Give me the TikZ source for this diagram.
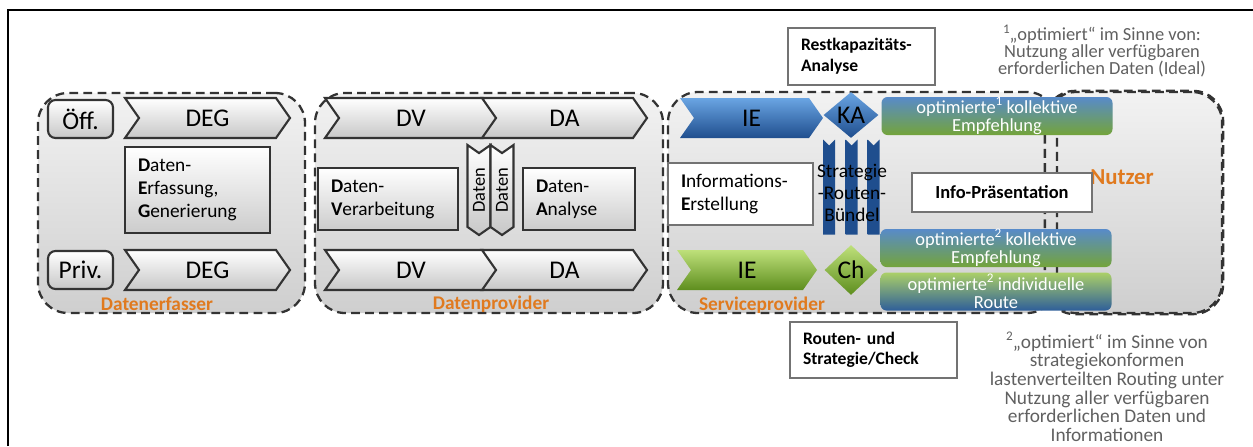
\documentclass[tikz,border=0pt]{standalone}
\usepackage{fontspec}
\setmainfont{Carlito}
\usepackage{tikz}
\usetikzlibrary{shapes.symbols}
\usetikzlibrary{shapes.geometric}

\definecolor{orangelab}{HTML}{E07A1F}
\definecolor{ieblueT}{HTML}{6AA5E3}
\definecolor{ieblueB}{HTML}{1F4E8E}
\definecolor{iegreenT}{HTML}{BEE07A}
\definecolor{iegreenB}{HTML}{5E8E1E}
\definecolor{recblue}{HTML}{3A76C0}
\definecolor{recgreen}{HTML}{74A43A}
\definecolor{notegray}{HTML}{606060}

\newcommand{\hoch}[1]{\raisebox{0.42em}{\fontsize{7.5}{8}\selectfont #1}}

\tikzset{
    group/.style={rectangle, rounded corners=6mm, draw=black!80, line width=1.3pt,
        dash pattern=on 5pt off 3pt, top color=black!5, bottom color=black!19, inner sep=0pt},
    grpline/.style={draw=black!80, line width=1.3pt, dash pattern=on 5pt off 3pt},
    grplabel/.style={text=orangelab, font=\bfseries\fontsize{11}{13}\selectfont, inner sep=0pt},
    chev/.style={signal, signal from=west, signal to=east, signal pointer angle=110,
        draw=black!80, line width=1.2pt, top color=white, bottom color=black!22,
        minimum height=8mm, inner sep=0pt, font=\fontsize{14.5}{16}\selectfont},
    vchev/.style={chev, rotate=90, signal from=east, signal to=west,
        minimum width=18mm, minimum height=4.6mm, font=\fontsize{10.5}{12}\selectfont},
    srcbox/.style={rectangle, rounded corners=1.5mm, draw=black!80, line width=1.2pt,
        top color=white, bottom color=black!22, minimum width=13mm, minimum height=7.6mm,
        inner sep=0pt, font=\fontsize{14.5}{16}\selectfont},
    datbox/.style={rectangle, draw=black!80, line width=1.2pt, top color=white,
        bottom color=black!20, inner xsep=2.6mm, align=left, font=\fontsize{11}{13}\selectfont},
    whitebox/.style={rectangle, draw=black!55, line width=0.9pt, fill=white,
        inner xsep=2.6mm, align=left, font=\fontsize{11}{13}\selectfont},
    blueshade/.style={top color=ieblueT, bottom color=ieblueB, draw=none},
    greenshade/.style={top color=iegreenT, bottom color=iegreenB, draw=none},
    rhomb/.style={diamond, shape aspect=1.2, inner sep=0pt, font=\fontsize{14.5}{16}\selectfont},
    bundle/.style={signal, rotate=90, signal from=east, signal to=nowhere, signal pointer angle=90,
        minimum width=19mm, minimum height=2.4mm, inner sep=0pt,
        top color=ieblueB, middle color=ieblueT!70!white, bottom color=ieblueB},
    recbox/.style={rectangle, rounded corners=1.2mm, minimum width=46.2mm, minimum height=7.6mm,
        inner sep=0pt, text=white, align=center, font=\fontsize{10.5}{10.2}\selectfont},
    bluegreen/.style={top color=recblue!85!white, middle color=recblue, bottom color=recgreen},
    greenblue/.style={top color=iegreenT!80!iegreenB, middle color=recgreen, bottom color=recblue!80!black},
    note/.style={align=center, text=notegray, inner sep=0pt}
}

\begin{document}
\begin{tikzpicture}[x=0.2mm, y=-0.2mm]
    \useasboundingbox (0,0) rectangle (1253,446);
    \draw[line width=1pt] (8,446) -- (8,10) -- (1253,10);

    % Gruppen
    \node[group, minimum width=53.4mm, minimum height=44mm] (erf) at (171.5,203) {};
    \node[group, minimum width=69.6mm, minimum height=44mm] (prov) at (489,203) {};
    \node[group, minimum width=35.2mm, minimum height=44.2mm] (nutzer) at (1134,202.5) {};
    \node[group, minimum width=77.8mm, minimum height=44.2mm] (serv) at (862.5,202.5) {};
    \draw[grpline, rounded corners=6mm] (nutzer.north west) rectangle (nutzer.south east);

    \node[grplabel] (erflab) at (157,304) {Datenerfasser};
    \node[grplabel] (provlab) at (491,304) {Datenprovider};
    \node[grplabel] (servlab) at (762,305) {Serviceprovider};
    \node[grplabel, font=\bfseries\fontsize{13}{15}\selectfont] (nutzerlab) at (1122,177) {Nutzer};

    % Datenerfasser
    \node[srcbox] (oeff) at (80.5,119) {Öff.};
    \node[srcbox] (priv) at (80.5,270) {Priv.};
    \node[chev, minimum width=33mm] (deg1) at (207.5,118) {DEG};
    \node[chev, minimum width=33mm] (deg2) at (207.5,270) {DEG};
    \node[datbox, minimum width=29mm, minimum height=17.2mm, text width=23.8mm] (erfbox) at (197.5,190)
        {\textbf{D}aten-\\\textbf{E}rfassung,\\\textbf{G}enerierung};

    % Datenprovider
    \node[chev, minimum width=34.4mm] (dv1) at (411,118) {DV};
    \node[chev, minimum width=33mm] (da1) at (564.5,118) {DA};
    \node[chev, minimum width=34.4mm] (dv2) at (411,270) {DV};
    \node[chev, minimum width=33mm] (da2) at (564.5,270) {DA};
    \node[datbox, minimum width=28mm, minimum height=12.4mm, text width=22.8mm] (dvbox) at (388,199)
        {\textbf{D}aten-\\\textbf{V}erarbeitung};
    \node[datbox, minimum width=22.4mm, minimum height=12.4mm, text width=17.2mm] (dabox) at (579,199)
        {\textbf{D}aten-\\\textbf{A}nalyse};
    \node[vchev] (daten1) at (479,190) {Daten};
    \node[vchev] (daten2) at (502,190) {Daten};

    % Serviceprovider
    \node[chev, blueshade, minimum width=28.6mm] (ie1) at (751.5,118) {IE};
    \node[chev, greenshade, minimum width=28mm] (ie2) at (747,270) {IE};
    \foreach \bx/\bn in {829/1, 851.5/2, 873.5/3}
        \node[bundle] (bar\bn) at (\bx,190) {};
    \node[rhomb, blueshade, minimum width=11mm, minimum height=9.2mm] (ka) at (851,115) {KA};
    \node[rhomb, greenshade, minimum width=10.6mm, minimum height=10mm] (ch) at (851,270) {Ch};
    \node[align=center, inner sep=0pt, font=\fontsize{11}{12.5}\selectfont] (buendel) at (852,193)
        {Strategie\\-Routen-\\Bündel};
    \node[whitebox, minimum width=29mm, minimum height=12.4mm, text width=23.8mm] (iebox) at (740.5,194)
        {\textbf{I}nformations-\\\textbf{E}rstellung};

    \node[recbox, bluegreen] (rec1) at (997,116) {optimierte\hoch{1} kollektive\\Empfehlung};
    \node[recbox, bluegreen] (rec2) at (996,248) {optimierte\hoch{2} kollektive\\Empfehlung};
    \node[recbox, greenblue] (rec3) at (996,291.5) {optimierte\hoch{2} individuelle\\Route};
    \node[whitebox, minimum width=36mm, minimum height=7.8mm, align=center,
        font=\bfseries\fontsize{10.5}{12}\selectfont] (praes) at (1002,192.5) {Info-Präsentation};

    \node[whitebox, minimum width=29.4mm, minimum height=11.4mm, text width=24.2mm,
        font=\bfseries\fontsize{10}{12}\selectfont] (restkap) at (861.5,56.5) {Restkapazitäts-\\Analyse};
    \node[whitebox, minimum width=33.4mm, minimum height=11.2mm, text width=28.2mm,
        font=\bfseries\fontsize{10}{11.4}\selectfont] (routen) at (873.5,350) {Routen- und\\Strategie/Check};

    % Fussnoten
    \node[note, font=\fontsize{10.5}{9.7}\selectfont] (note1) at (1102,51)
        {\hoch{1}„optimiert“ im Sinne von:\\Nutzung aller verfügbaren\\erforderlichen Daten (Ideal)};
    \node[note, font=\fontsize{11}{10.6}\selectfont] (note2) at (1107,386.5)
        {\hoch{2}„optimiert“ im Sinne von\\strategiekonformen\\lastenverteilten Routing unter\\Nutzung aller verfügbaren\\erforderlichen Daten und\\Informationen};
\end{tikzpicture}
\end{document}
